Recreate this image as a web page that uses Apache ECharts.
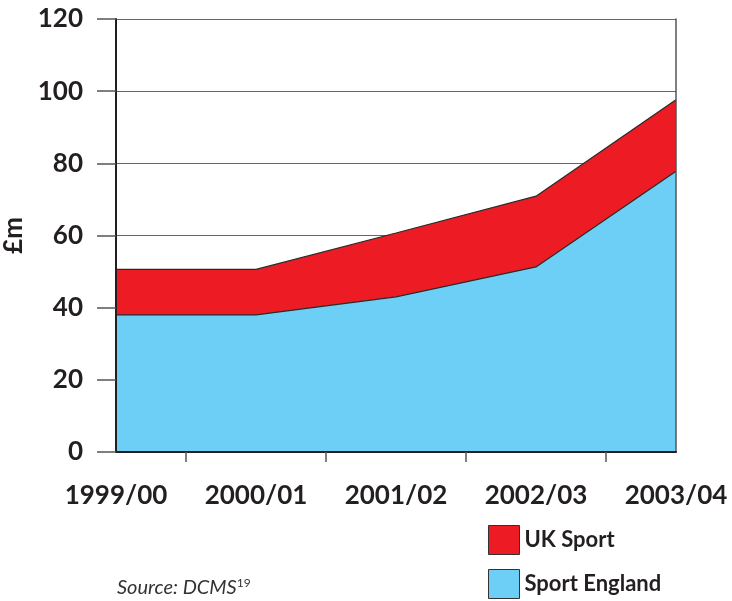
<!DOCTYPE html>
<html><head><meta charset="utf-8">
<script src="https://cdn.jsdelivr.net/npm/echarts@6/dist/echarts.min.js"></script>
<style>html,body{margin:0;padding:0;background:#fff}#c{width:732px;height:601px}</style>
</head><body><div id="c"></div>
<script>
const categories = ['1999/00', '2000/01', '2001/02', '2002/03', '2003/04'];
const sportEngland = [38, 38, 43, 51.3, 77.8];
const ukSport = [12.6, 12.6, 17.7, 19.6, 19.8];
const yTicks = [0, 20, 40, 60, 80, 100, 120];

const FONT = 'Lato';
const TXT = '#231F20';
const chart = echarts.init(document.getElementById('c'));
// half-step slots used only to place tick marks between the categories
const halfSlots = [];
categories.forEach((c, i) => { halfSlots.push(c); if (i < categories.length - 1) halfSlots.push(c + '|'); });

chart.setOption({
  animation: false,
  grid: { left: 116, right: 56, top: 19, bottom: 149, containLabel: false, outerBoundsMode: 'none' },
  xAxis: [
    { type: 'category', data: categories, boundaryGap: false,
      axisLine: { show: true, lineStyle: { color: '#231F20', width: 2 } },
      axisTick: { show: false },
      axisLabel: { margin: 31, interval: 0, fontFamily: FONT, fontWeight: 'bold', fontSize: 26, color: TXT },
      splitLine: { show: false }, z: 10 },
    { type: 'category', data: halfSlots, boundaryGap: false, position: 'bottom',
      axisLine: { show: false },
      axisTick: { show: true, length: 10, interval: i => i % 2 === 1, lineStyle: { color: '#555', width: 1.5 } },
      axisLabel: { show: false }, splitLine: { show: false }, z: 10 }
  ],
  yAxis: [
    { type: 'value', min: 0, max: 120, interval: 20,
      name: '£m', nameLocation: 'middle', nameGap: 75, nameRotate: 90,
      nameTextStyle: { fontFamily: FONT, fontWeight: 'bold', fontSize: 26, color: TXT },
      axisLine: { show: true, lineStyle: { color: '#231F20', width: 2 } },
      axisTick: { show: true, length: 19, lineStyle: { color: '#555', width: 1.5 } },
      axisLabel: { margin: 33, fontFamily: FONT, fontWeight: 'bold', fontSize: 26, color: TXT,
        customValues: yTicks },
      splitLine: { show: false }, z: 10 },
    { type: 'value', min: 0, max: 120, interval: 20, position: 'left',
      axisLine: { show: false }, axisTick: { show: false }, axisLabel: { show: false },
      splitLine: { show: true, lineStyle: { color: '#666', width: 1 } }, z: 0 },
    { type: 'value', min: 0, max: 120, interval: 20, position: 'right',
      axisLine: { show: true, lineStyle: { color: '#555', width: 1.5 } },
      axisTick: { show: false }, axisLabel: { show: false }, splitLine: { show: false }, z: 10 }
  ],
  legend: {
    orient: 'vertical', left: 488, top: 525, padding: 0, itemWidth: 31, itemHeight: 29, itemGap: 14,
    icon: 'rect',
    textStyle: { fontFamily: FONT, fontWeight: 'bold', fontSize: 22, color: TXT },
    data: [
      { name: 'UK Sport', itemStyle: { color: '#ED1C24', borderColor: '#333', borderWidth: 1 } },
      { name: 'Sport England', itemStyle: { color: '#6DCFF6', borderColor: '#333', borderWidth: 1 } }
    ]
  },
  graphic: [{
    type: 'text', left: 117, top: 577,
    style: {
      text: '{a|Source: DCMS}{s|19}',
      rich: {
        a: { fontFamily: FONT, fontStyle: 'italic', fontSize: 20, fill: '#333' },
        s: { fontFamily: FONT, fontSize: 12, fill: '#333', verticalAlign: 'top', padding: [0, 0, 9, 0] }
      }
    }
  }],
  series: [
    { name: 'Sport England', type: 'line', stack: 'total', data: sportEngland,
      symbol: 'none', lineStyle: { color: '#2a2a2a', width: 1.2 },
      itemStyle: { color: '#6DCFF6' },
      areaStyle: { color: '#6DCFF6', opacity: 1 }, z: 2 },
    { name: 'UK Sport', type: 'line', stack: 'total', data: ukSport,
      symbol: 'none', lineStyle: { color: '#2a2a2a', width: 1.2 },
      itemStyle: { color: '#ED1C24' },
      areaStyle: { color: '#ED1C24', opacity: 1 }, z: 2 }
  ]
});
</script></body></html>
